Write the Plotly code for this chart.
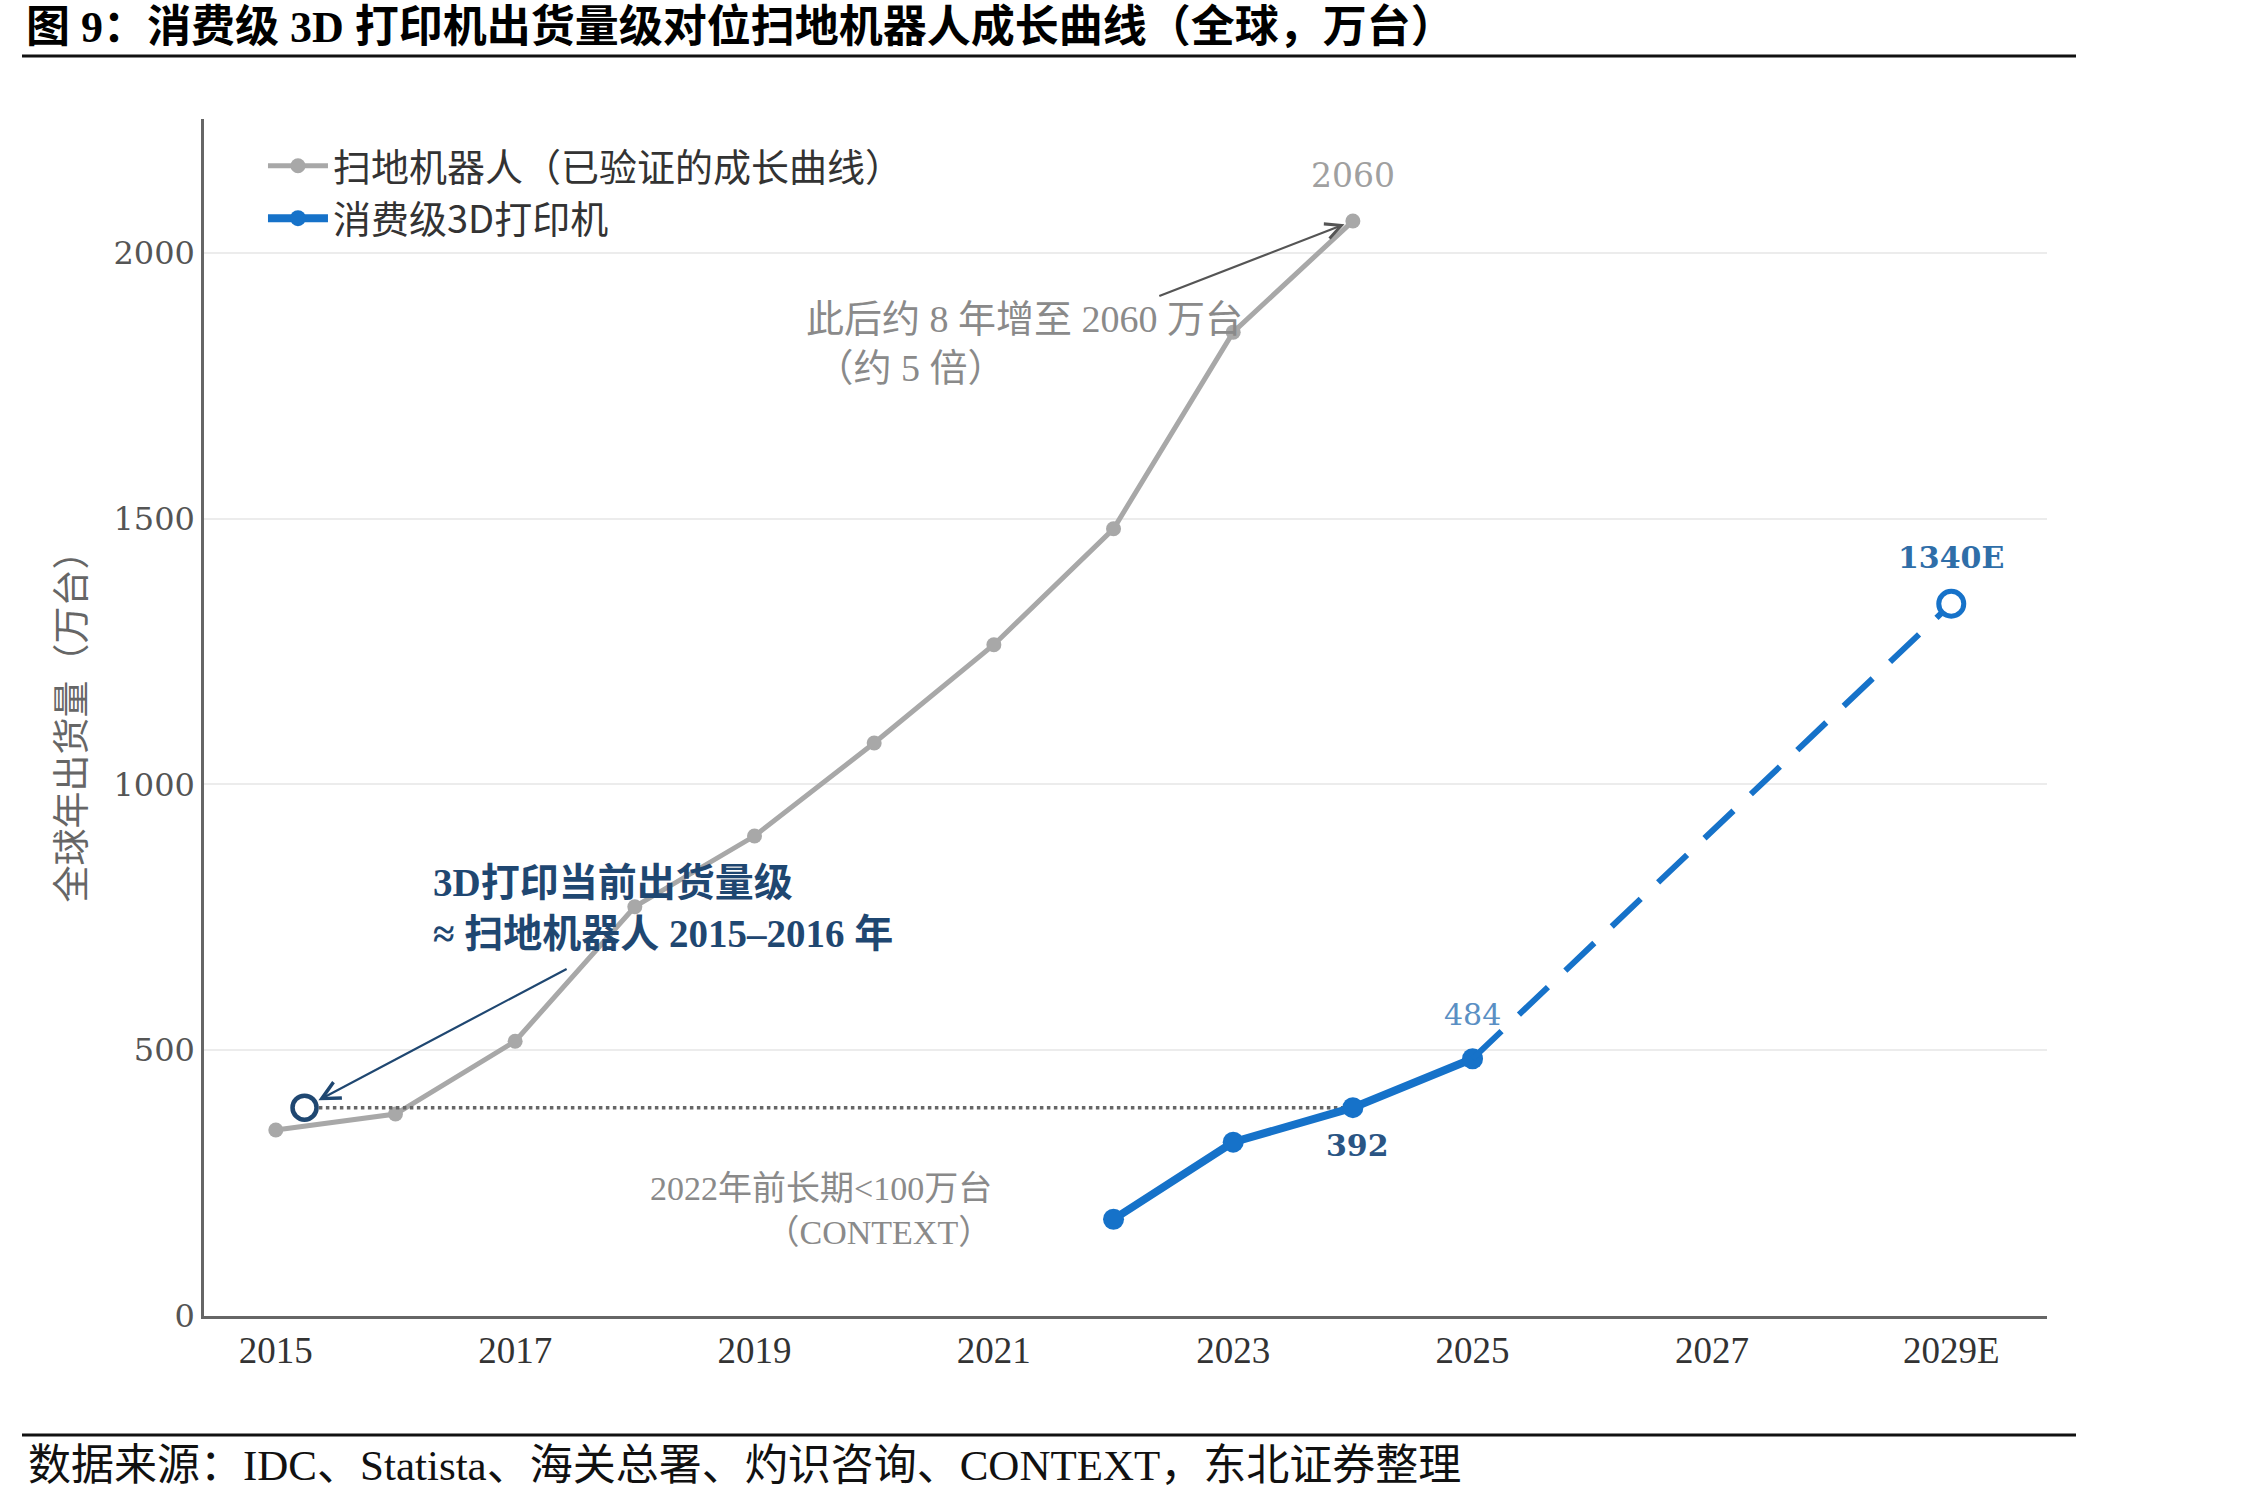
import plotly.graph_objects as go

# ---------------- data ----------------
robot_years = [2015, 2016, 2017, 2018, 2019, 2020, 2021, 2022, 2023, 2024]
robot_units = [350, 380, 517, 770, 903, 1078, 1263, 1481, 1851, 2060]

printer_years = [2022, 2023, 2024, 2025]
printer_units = [182, 327, 392, 484]

forecast_years = [2025, 2029]
forecast_units = [484, 1340]

tick_years = [2015, 2017, 2019, 2021, 2023, 2025, 2027, 2029]
tick_labels = ["2015", "2017", "2019", "2021", "2023", "2025", "2027", "2029E"]
y_ticks = [0, 500, 1000, 1500, 2000]

match_x = 2015.24          # robot-curve position equivalent to today's 3D-printer level
match_y = printer_units[2]  # 392

CJK = "Noto Sans CJK SC"
SERIF_CJK = "Liberation Serif, Noto Sans CJK SC"

GRAY = "#a8a8a8"
BLUE = "#1672c9"
NAVY = "#1f4771"

fig = go.Figure()

fig.add_trace(go.Scatter(
    x=robot_years, y=robot_units, mode="lines+markers",
    name="扫地机器人（已验证的成长曲线）",
    line=dict(color=GRAY, width=5),
    marker=dict(color=GRAY, size=15),
))

fig.add_trace(go.Scatter(
    x=[match_x + 0.12, printer_years[2]], y=[match_y, match_y], mode="lines",
    line=dict(color="#666666", width=3.5, dash="dot"), showlegend=False, hoverinfo="skip",
))

fig.add_trace(go.Scatter(
    x=printer_years, y=printer_units, mode="lines+markers",
    name="消费级3D打印机",
    line=dict(color=BLUE, width=8),
    marker=dict(color=BLUE, size=21),
))

fig.add_trace(go.Scatter(
    x=forecast_years, y=forecast_units, mode="lines",
    line=dict(color=BLUE, width=6, dash="40px,24px"), showlegend=False,
))

fig.add_trace(go.Scatter(
    x=[forecast_years[-1]], y=[forecast_units[-1]], mode="markers",
    marker=dict(color="white", size=25, line=dict(color=BLUE, width=5)), showlegend=False,
))

fig.add_trace(go.Scatter(
    x=[match_x], y=[match_y], mode="markers",
    marker=dict(color="white", size=24, line=dict(color=NAVY, width=4.5)), showlegend=False,
))

annotations = []

# data labels
annotations.append(dict(x=robot_years[-1], y=robot_units[-1], text=str(robot_units[-1]),
                        showarrow=False, yshift=46, font=dict(family="DejaVu Serif", size=33, color="#a0a0a0")))
annotations.append(dict(x=printer_years[-1], y=printer_units[-1], text=str(printer_units[-1]),
                        showarrow=False, yshift=44, font=dict(family="DejaVu Serif", size=30, color="#5a8fc4")))
annotations.append(dict(x=printer_years[2], y=printer_units[2], text="<b>%d</b>" % printer_units[2],
                        showarrow=False, xshift=5, yshift=-38, font=dict(family="DejaVu Serif", size=30, color="#2a5584")))
annotations.append(dict(x=forecast_years[-1], y=forecast_units[-1], text="<b>%dE</b>" % forecast_units[-1],
                        showarrow=False, yshift=46, font=dict(family="DejaVu Serif", size=30, color="#2f6ea8")))

# explanatory notes
annotations.append(dict(x=2016.30, y=768, xanchor="left", yanchor="middle", align="left", showarrow=False,
                        text="<b>3D打印当前出货量级</b><br><b>≈ 扫地机器人 2015–2016 年</b>",
                        font=dict(family=SERIF_CJK, size=39, color=NAVY)))
annotations.append(dict(x=2017.43, y=653, ax=match_x, ay=match_y, axref="x", ayref="y",
                        showarrow=True, arrowside="start", arrowhead=5, startarrowhead=5, arrowsize=1.6,
                        startarrowsize=1.6, arrowwidth=2.2, arrowcolor=NAVY, startstandoff=14, text=""))

annotations.append(dict(x=2019.41, y=1830, xanchor="left", yanchor="middle", align="left", showarrow=False,
                        text="此后约 8 年增至 2060 万台<br> （约 5 倍）",
                        font=dict(family=SERIF_CJK, size=38, color="#8a8a8a")))
annotations.append(dict(x=robot_years[-1], y=robot_units[-1], ax=2022.37, ay=1918, axref="x", ayref="y",
                        showarrow=True, arrowhead=5, arrowsize=1.4, arrowwidth=2.2, arrowcolor="#555555",
                        standoff=9, text=""))

annotations.append(dict(x=2021.0, y=198, xanchor="right", yanchor="middle", align="right", showarrow=False,
                        text="2022年前长期<100万台<br>（CONTEXT）",
                        font=dict(family=SERIF_CJK, size=34, color="#8a8a8a")))

# axis title
annotations.append(dict(xref="paper", yref="paper", x=0, y=0.5, xshift=-136, textangle=-90,
                        showarrow=False, text="全球年出货量（万台）", xanchor="center", yanchor="middle",
                        font=dict(family=CJK, size=37, color="#666666")))

# footer
annotations.append(dict(xref="paper", yref="paper", x=(26 - 204) / 1843, y=(1316 - 1465) / 1197,
                        xanchor="left", yanchor="middle", showarrow=False,
                        text="数据来源：IDC、Statista、海关总署、灼识咨询、CONTEXT，东北证券整理",
                        font=dict(family=SERIF_CJK, size=43, color="#111111")))

shapes = [
    dict(type="line", xref="paper", yref="paper", x0=(22 - 204) / 1843, x1=(2076 - 204) / 1843,
         y0=(1316 - 56) / 1197, y1=(1316 - 56) / 1197, line=dict(color="#111111", width=3)),
    dict(type="line", xref="paper", yref="paper", x0=(22 - 204) / 1843, x1=(2076 - 204) / 1843,
         y0=(1316 - 1435) / 1197, y1=(1316 - 1435) / 1197, line=dict(color="#111111", width=3)),
]

fig.update_layout(
    width=2268, height=1500,
    margin=dict(l=204, r=221, t=119, b=184),
    paper_bgcolor="white", plot_bgcolor="white",
    title=dict(text="<b>图 9：消费级 3D 打印机出货量级对位扫地机器人成长曲线（全球，万台）</b>",
               xref="container", yref="container", x=26 / 2268, y=1 - 27 / 1500,
               xanchor="left", yanchor="middle",
               font=dict(family=SERIF_CJK, size=44, color="#000000")),
    legend=dict(x=0.032, y=0.987, xanchor="left", yanchor="top", bgcolor="rgba(255,255,255,0)",
                font=dict(family=CJK, size=38, color="#333333"), tracegroupgap=0, itemwidth=60),
    annotations=annotations,
    shapes=shapes,
    showlegend=True,
)

fig.update_xaxes(range=[2014.4, 2029.8], tickvals=tick_years, ticktext=tick_labels,
                 showgrid=False, zeroline=False, showline=True, linecolor="#666666", linewidth=2.5,
                 ticks="", tickfont=dict(family="Liberation Serif", size=37, color="#333333"))
fig.update_yaxes(range=[0, 2252], tickvals=y_ticks, showgrid=True, gridcolor="#ececec", gridwidth=2,
                 zeroline=False, showline=True, linecolor="#666666", linewidth=2.5,
                 ticks="", tickfont=dict(family="DejaVu Serif", size=32, color="#555555"))

fig.write_html("out.html")
